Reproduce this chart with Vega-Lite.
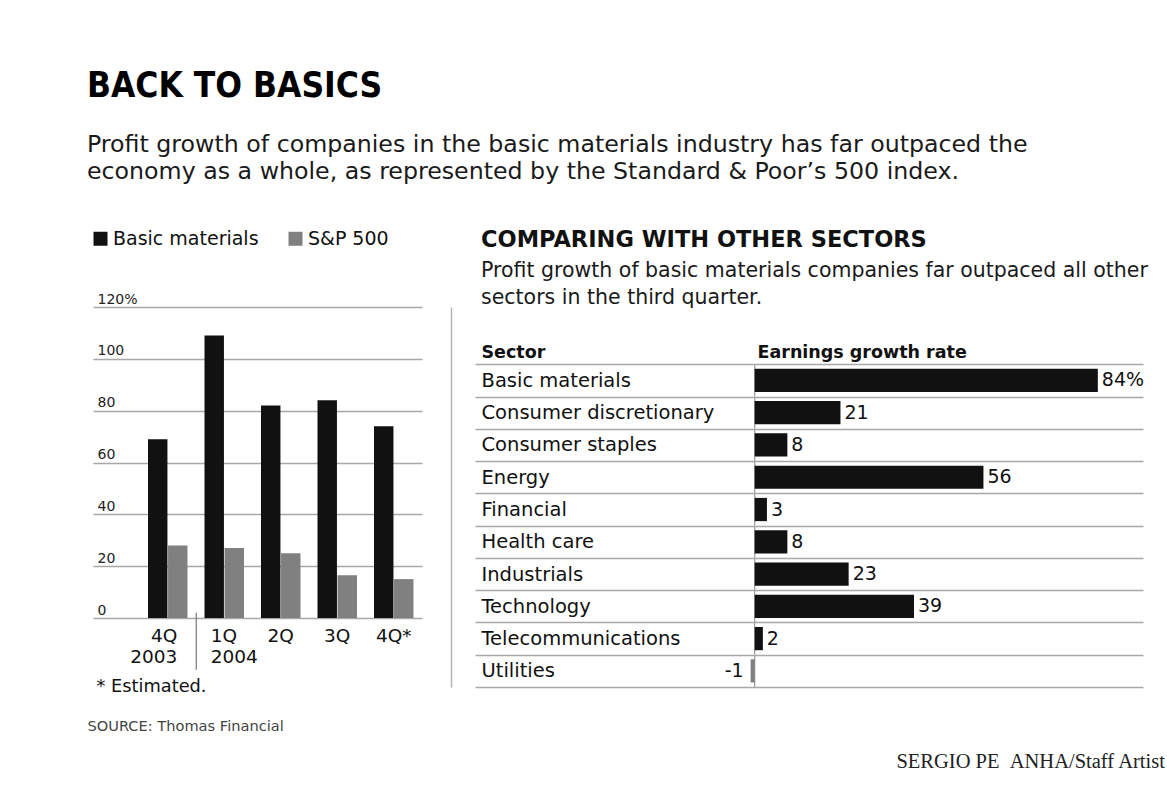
{
  "$schema": "https://vega.github.io/schema/vega-lite/v6.json",
  "background": "white",
  "padding": {"left": 87, "top": 68, "right": 0, "bottom": 10},
  "config": {
    "view": {"stroke": null},
    "font": "DejaVu Sans",
    "axis": {"labelFont": "DejaVu Sans", "titleFont": "DejaVu Sans"},
    "legend": {"labelFont": "DejaVu Sans"}
  },
  "title": {
    "text": "BACK TO BASICS",
    "subtitle": ["Profit growth of companies in the basic materials industry has far outpaced the", "economy as a whole, as represented by the Standard & Poor’s 500 index."],
    "anchor": "start", "frame": "group", "dx": -6, "offset": 45,
    "font": "'DejaVu Sans Condensed', 'Liberation Sans Narrow', 'Roboto Condensed', sans-serif", "fontSize": 35, "fontWeight": "bold", "color": "#000000",
    "subtitleFont": "DejaVu Sans", "subtitleFontSize": 23.7, "subtitleColor": "#1a1a1a", "subtitleLineHeight": 27, "subtitlePadding": 29
  },
  "vconcat": [
    {
      "title": {"text": "SERGIO PE\u00a0\u00a0ANHA/Staff Artist", "orient": "bottom", "anchor": "end", "frame": "bounds", "dx": 17, "offset": 19, "font": "Liberation Serif", "fontSize": 20.5, "fontWeight": "normal", "color": "#222222"},
      "bounds": "flush",
      "spacing": 53,
      "hconcat": [
        {
          "width": 329,
          "height": 311,
          "layer": [
            {
              "data": {"values": [
                {"quarter": "4Q 2003", "series": "Basic materials", "value": 69},
                {"quarter": "4Q 2003", "series": "S&P 500", "value": 28},
                {"quarter": "1Q 2004", "series": "Basic materials", "value": 109},
                {"quarter": "1Q 2004", "series": "S&P 500", "value": 27},
                {"quarter": "2Q", "series": "Basic materials", "value": 82},
                {"quarter": "2Q", "series": "S&P 500", "value": 25},
                {"quarter": "3Q", "series": "Basic materials", "value": 84},
                {"quarter": "3Q", "series": "S&P 500", "value": 16.5},
                {"quarter": "4Q*", "series": "Basic materials", "value": 74},
                {"quarter": "4Q*", "series": "S&P 500", "value": 15}
              ]},
              "mark": {"type": "bar"},
              "encoding": {
                "x": {
                  "field": "quarter", "type": "nominal", "sort": null,
                  "scale": {"paddingInner": 0.301, "paddingOuter": 0.562, "align": 0.866},
                  "axis": {
                    "title": "SOURCE: Thomas Financial", "titleX": -6, "titleY": 112, "titleAlign": "left", "titleBaseline": "alphabetic",
                    "titleFontSize": 14.6, "titleFontWeight": "normal", "titleColor": "#444444",
                    "labelAngle": 0, "domain": false, "ticks": false, "tickSize": 0, "labelPadding": 8, "labelBaseline": "top",
                    "labelFontSize": 18.5, "labelColor": "#111111", "labelLineHeight": 21,
                    "labelExpr": "split(datum.label, ' ')",
                    "labelAlign": {"condition": [{"test": "datum.value === '4Q 2003'", "value": "right"}, {"test": "datum.value === '1Q 2004'", "value": "left"}], "value": "center"},
                    "labelOffset": {"condition": [{"test": "datum.value === '4Q 2003'", "value": 9.5}, {"test": "datum.value === '1Q 2004'", "value": -13.5}], "value": 0}
                  }
                },
                "xOffset": {"field": "series", "type": "nominal", "sort": ["Basic materials", "S&P 500"], "scale": {"paddingInner": 0.03}},
                "y": {
                  "field": "value", "type": "quantitative",
                  "scale": {"domain": [0, 120], "nice": false},
                  "axis": {
                    "title": "* Estimated.", "titleAngle": 0, "titleAlign": "left", "titleBaseline": "alphabetic", "titleX": 3, "titleY": 384,
                    "titleFontSize": 17.8, "titleFontWeight": "normal", "titleColor": "#111111",
                    "values": [0, 20, 40, 60, 80, 100, 120], "grid": true, "gridColor": "#a8a8a8", "gridWidth": 1.5,
                    "domain": false, "ticks": false, "tickSize": 0, "labelAlign": "left", "labelBaseline": "alphabetic",
                    "labelPadding": -4, "labelOffset": -4, "labelFontSize": 14, "labelColor": "#222222",
                    "labelExpr": "datum.value == 120 ? '120%' : datum.label"
                  }
                },
                "color": {
                  "field": "series", "type": "nominal",
                  "scale": {"domain": ["Basic materials", "S&P 500"], "range": ["#111111", "#808080"]},
                  "legend": {
                    "title": null, "orient": "none", "legendX": -2, "legendY": -78, "direction": "horizontal",
                    "symbolType": "square", "symbolSize": 196, "symbolStrokeWidth": 0, "symbolOpacity": 1,
                    "labelFontSize": 19, "labelColor": "#111111", "labelOffset": 3, "columnPadding": 27
                  }
                }
              }
            },
            {
              "data": {"values": [{"divider": "year"}]},
              "mark": {"type": "rule", "color": "#777777", "strokeWidth": 1.2, "xOffset": -28},
              "encoding": {
                "x": {"datum": "1Q 2004", "type": "nominal"},
                "y": {"datum": 2, "type": "quantitative"},
                "y2": {"datum": -20}
              }
            }
          ]
        },
        {
          "width": 668,
          "height": 380,
          "title": {
            "text": "COMPARING WITH OTHER SECTORS",
            "subtitle": ["Profit growth of basic materials companies far outpaced all other", "sectors in the third quarter."],
            "anchor": "start", "frame": "group", "dx": 6, "offset": -11,
            "font": "DejaVu Sans", "fontSize": 22.5, "fontWeight": "bold", "color": "#111111",
            "subtitleFont": "DejaVu Sans", "subtitleFontSize": 20.5, "subtitleColor": "#1a1a1a", "subtitleLineHeight": 26.5, "subtitlePadding": 10
          },
          "data": {"values": [
            {"sector": "Basic materials", "value": 84, "label": "84%"},
            {"sector": "Consumer discretionary", "value": 21, "label": "21"},
            {"sector": "Consumer staples", "value": 8, "label": "8"},
            {"sector": "Energy", "value": 56, "label": "56"},
            {"sector": "Financial", "value": 3, "label": "3"},
            {"sector": "Health care", "value": 8, "label": "8"},
            {"sector": "Industrials", "value": 23, "label": "23"},
            {"sector": "Technology", "value": 39, "label": "39"},
            {"sector": "Telecommunications", "value": 2, "label": "2"},
            {"sector": "Utilities", "value": -1, "label": "-1"}
          ]},
          "encoding": {
            "y": {
              "field": "sector", "type": "nominal", "sort": null,
              "scale": {"paddingInner": 0, "paddingOuter": 0.888, "align": 1},
              "axis": {
                "title": "Sector", "titleAngle": 0, "titleAlign": "left", "titleBaseline": "alphabetic", "titleX": 30, "titleY": 50,
                "titleFontSize": 17.5, "titleFontWeight": "bold", "titleColor": "#111111",
                "tickBand": "extent", "grid": true, "gridColor": "#a8a8a8", "gridWidth": 1.5,
                "domain": true, "domainColor": "#b4b4b4", "domainWidth": 1.5, "offset": 24,
                "ticks": false, "tickSize": 0, "labelAlign": "left", "labelBaseline": "middle", "labelPadding": -30,
                "labelFontSize": 19.5, "labelColor": "#111111", "labelLimit": 400
              }
            }
          },
          "layer": [
            {
              "mark": {"type": "rect", "filled": false, "stroke": "#999999", "strokeWidth": 1.2},
              "encoding": {
                "x": {"datum": 0, "type": "quantitative"},
                "x2": {"datum": 0}
              }
            },
            {
              "mark": {"type": "bar", "height": {"band": 0.72}},
              "encoding": {
                "x": {
                  "field": "value", "type": "quantitative",
                  "scale": {"domain": [-68.47, 95.06], "nice": false, "zero": false},
                  "axis": {
                    "orient": "top", "title": "Earnings growth rate", "titleX": 282, "titleY": 50, "titleAlign": "left", "titleBaseline": "alphabetic",
                    "titleFontSize": 17.5, "titleFontWeight": "bold", "titleColor": "#111111",
                    "labels": false, "ticks": false, "domain": false, "grid": false
                  }
                },
                "color": {"condition": {"test": "datum.value < 0", "value": "#808080"}, "value": "#111111"}
              }
            },
            {
              "mark": {"type": "text", "align": {"expr": "datum.value < 0 ? 'right' : 'left'"}, "dx": {"expr": "datum.value < 0 ? -7 : 4"}, "baseline": "middle", "fontSize": 19, "color": "#111111"},
              "encoding": {
                "x": {"field": "value", "type": "quantitative"},
                "text": {"field": "label"}
              }
            }
          ]
        }
      ]
    }
  ]
}
